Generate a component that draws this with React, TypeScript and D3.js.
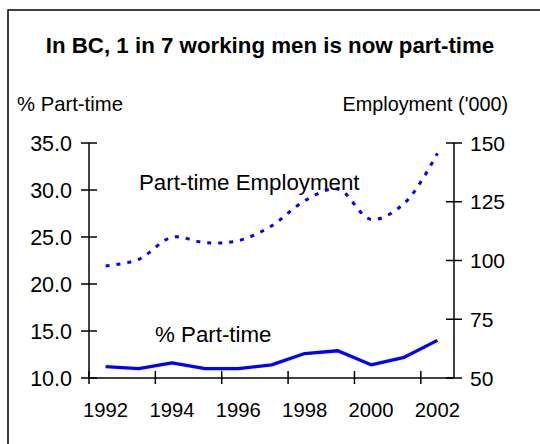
import React from "react";
import * as d3 from "d3";

const years = ["1992","1993","1994","1995","1996","1997","1998","1999","2000","2001","2002"];
const pctPartTime = [11.2, 11.0, 11.6, 11.0, 11.0, 11.4, 12.6, 12.9, 11.4, 12.2, 14.0];
const partTimeEmployment = [97.7, 100.5, 109.9, 107.6, 108.4, 114.7, 125.4, 130.4, 117.5, 124.3, 145.6];
const leftTicks = [10, 15, 20, 25, 30, 35];
const rightTicks = [50, 75, 100, 125, 150];
const yearLabels = ["1992","1994","1996","1998","2000","2002"];

const FONT = "Arial, 'Liberation Sans', Helvetica, sans-serif";

export default function App() {
  const left = 89, right = 454, top = 143, bottom = 378;
  const x = d3.scaleBand<string>().domain(years).range([left, right]);
  const yL = d3.scaleLinear().domain([10, 35]).range([bottom, top]);
  const yR = d3.scaleLinear().domain([50, 150]).range([bottom, top]);
  const cx = (y: string) => (x(y) as number) + x.bandwidth() / 2;

  const solid = d3.line<number>()
    .x((_, i) => cx(years[i]))
    .y((d) => yL(d))(pctPartTime) as string;
  const dashed = d3.line<number>()
    .x((_, i) => cx(years[i]))
    .y((d) => yR(d))
    .curve(d3.curveCatmullRom.alpha(0.5))(partTimeEmployment) as string;

  return (
    <svg width={540} height={444} style={{ position: "absolute", left: 0, top: 0, background: "#fff" }} fontFamily={FONT}>
      <rect x={8} y={10} width={600} height={500} fill="#fff" stroke="#000" strokeWidth={1.5} />
      <text x={270} y={53} textAnchor="middle" fontWeight="bold" fontSize={22.3} fill="#000">
        In BC, 1 in 7 working men is now part-time
      </text>
      <text x={17} y={111} fontSize={20.3} fill="#000">% Part-time</text>
      <text x={508} y={111} fontSize={19.8} fill="#000" textAnchor="end">Employment ('000)</text>

      {/* left axis */}
      <line x1={left} x2={left} y1={top} y2={bottom} stroke="#000" strokeWidth={1.5} />
      {leftTicks.map((t) => (
        <g key={"l" + t}>
          <line x1={left - 8} x2={left + 8} y1={yL(t)} y2={yL(t)} stroke="#000" strokeWidth={1.5} />
          <text x={72} y={yL(t)} dy="0.36em" textAnchor="end" fontSize={21.5} fill="#000">{t.toFixed(1)}</text>
        </g>
      ))}
      {/* right axis */}
      <line x1={right} x2={right} y1={top} y2={bottom} stroke="#000" strokeWidth={1.5} />
      {rightTicks.map((t) => (
        <g key={"r" + t}>
          <line x1={right - 8} x2={right + 8} y1={yR(t)} y2={yR(t)} stroke="#000" strokeWidth={1.5} />
          <text x={470} y={yR(t)} dy="0.36em" textAnchor="start" fontSize={21} fill="#000">{t}</text>
        </g>
      ))}
      {/* x axis */}
      <line x1={left} x2={right} y1={bottom} y2={bottom} stroke="#000" strokeWidth={1.5} />
      {yearLabels.map((y) => (
        <g key={"x" + y}>
          <line x1={x(y)} x2={x(y)} y1={bottom - 7} y2={bottom + 6} stroke="#000" strokeWidth={1.5} />
          <text x={cx(y)} y={417} textAnchor="middle" fontSize={20.3} fill="#000">{y}</text>
        </g>
      ))}

      <path d={dashed} fill="none" stroke="#0000ff" strokeWidth={3} strokeDasharray="4,7" />
      <path d={solid} fill="none" stroke="#0000ff" strokeWidth={3.3} strokeLinejoin="round" />

      <text x={139} y={189.5} fontSize={22.3} fill="#000">Part-time Employment</text>
      <text x={155} y={342} fontSize={22.3} fill="#000">% Part-time</text>
    </svg>
  );
}
